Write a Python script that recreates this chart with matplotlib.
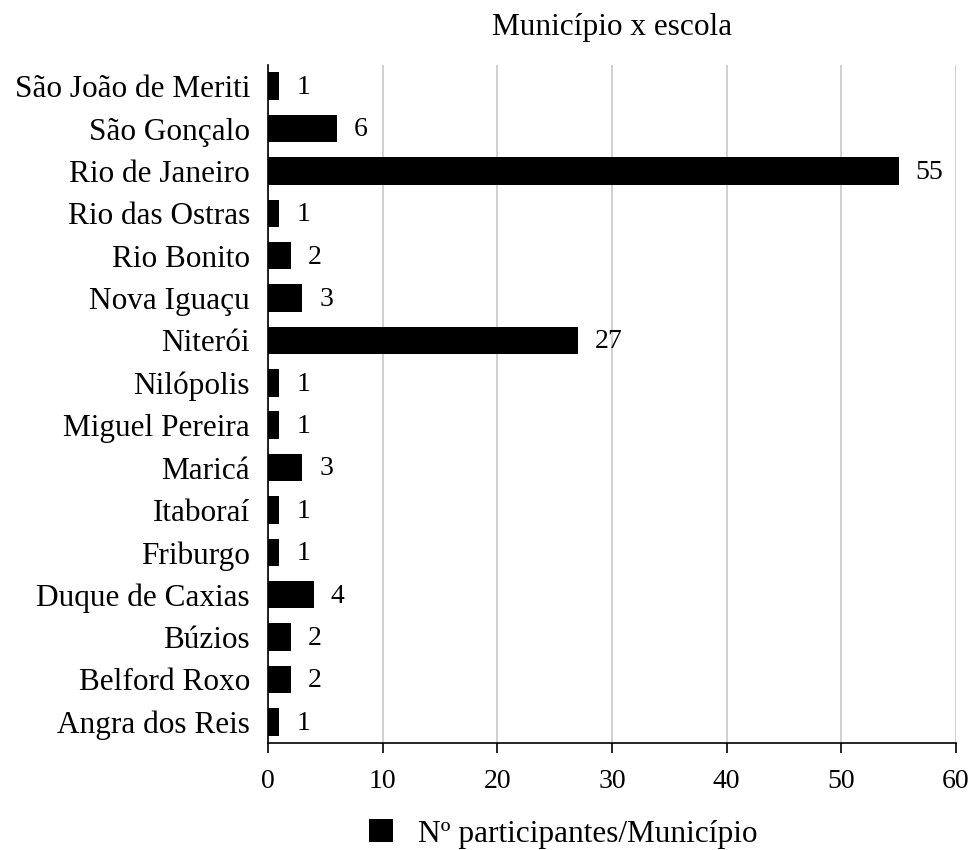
import matplotlib
matplotlib.use("Agg")
import numpy as np
from matplotlib import pyplot as plt

municipios = ["Angra dos Reis", "Belford Roxo", "Búzios", "Duque de Caxias",
              "Friburgo", "Itaboraí", "Maricá", "Miguel Pereira", "Nilópolis",
              "Niterói", "Nova Iguaçu", "Rio Bonito", "Rio das Ostras",
              "Rio de Janeiro", "São Gonçalo", "São João de Meriti"]
participantes = [1, 2, 2, 4, 1, 1, 3, 1, 1, 27, 3, 2, 1, 55, 6, 1]

plt.rcParams["font.family"] = ["Liberation Serif", "DejaVu Serif"]

fig = plt.figure(figsize=(9.69, 8.5), dpi=100)
ax = fig.add_axes([268 / 969, 1 - 743 / 850, 688 / 969, 678 / 850])

y = np.arange(len(municipios))
ax.barh(y, participantes, height=0.65, color="black",
        label="Nº participantes/Município", zorder=3)
for yi, v in zip(y, participantes):
    ax.annotate(str(v), (v, yi), xytext=(12, -1), textcoords="offset points",
                va="center", ha="left", fontsize=20)

ax.set_xlim(0, 60)
ax.set_ylim(-0.5, len(municipios) - 0.5)
ax.set_xticks(range(0, 61, 10))
ax.set_yticks(y)
ax.set_yticklabels(municipios, fontsize=22.5)
ax.tick_params(axis="x", labelsize=20, length=7, width=1.2, pad=12, direction="out")
ax.tick_params(axis="y", length=0, pad=13)
ax.grid(axis="x", color="#c8c8c8", linewidth=1.2, zorder=0)
for s in ["top", "right"]:
    ax.spines[s].set_visible(False)
ax.spines["left"].set_linewidth(1.2)
ax.spines["bottom"].set_linewidth(1.2)

fig.text(612 / 969, 1 - 28 / 850, "Município x escola", ha="center", va="center",
         fontsize=22.5)
fig.legend(loc="center left", bbox_to_anchor=(341 / 969, 1 - 834 / 850), frameon=False,
           fontsize=22.5, handlelength=0.75, handleheight=0.75, handletextpad=0.8)

fig.savefig("out.png", dpi=100)
